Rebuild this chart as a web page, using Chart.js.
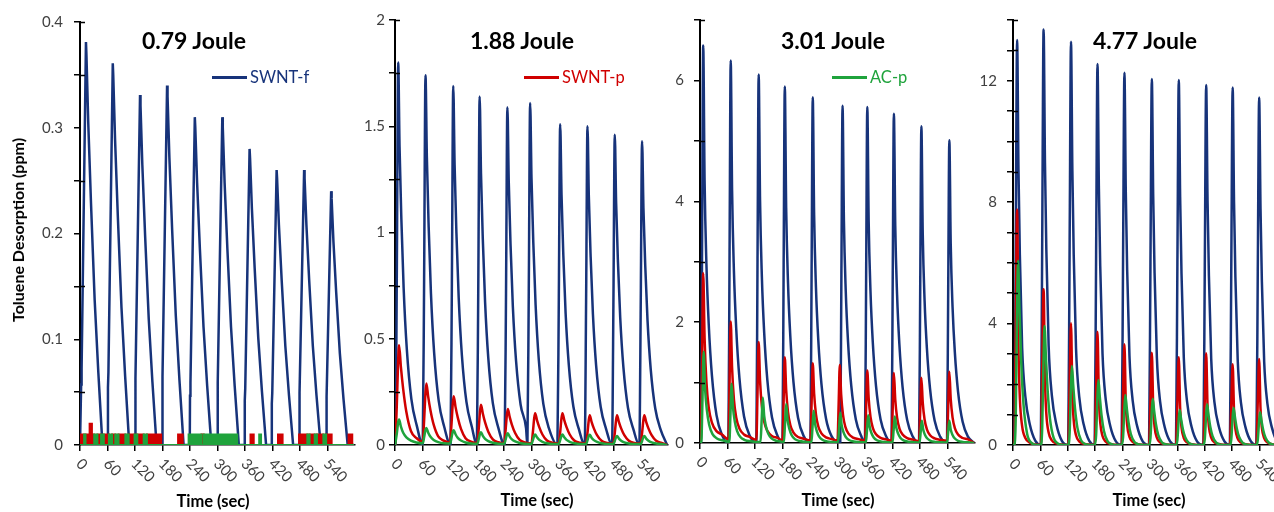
<!DOCTYPE html>
<html><head><meta charset="utf-8">
<script src="https://cdn.jsdelivr.net/npm/chart.js@4.4.1/dist/chart.umd.min.js"></script>
<style>
html,body{margin:0;padding:0;background:#fff;overflow:hidden;width:1274px;height:512px;}
#wrap{position:relative;width:1274px;height:512px;overflow:hidden;font-family:Lato,'Open Sans',sans-serif;}
canvas{position:absolute;top:0;}
.t{position:absolute;white-space:nowrap;line-height:1;}
.title{font-weight:bold;font-size:23px;color:#000;transform:translate(-50%,-50%);}
.xt{font-weight:bold;font-size:16.5px;color:#000;transform:translate(-50%,-50%);}
.yt{font-weight:bold;font-size:16px;color:#000;transform:translate(-50%,-50%) rotate(-90deg);}
.leg{font-size:16.5px;transform:translateY(-50%);}
.legline{position:absolute;height:3px;}
</style></head>
<body><div id="wrap"></div>
<script>
// ---------- labels ----------
const timeTicks = [0, 60, 120, 180, 240, 300, 360, 420, 480, 540];
const panelTitles = ['0.79 Joule', '1.88 Joule', '3.01 Joule', '4.77 Joule'];
const seriesNames = ['SWNT-f', 'SWNT-p', 'AC-p'];
const xTitle = 'Time (sec)';
const yTitle = 'Toluene Desorption (ppm)';
const yMaxes = [0.4, 2, 7, 14];
const yMinorSteps = [0.05, 0.25, 1, 1];
const yLabelSteps = [0.1, 0.5, 2, 4];

// ---------- Panel 1 : 0.79 Joule ----------
const p1FStart = [2, 60.5, 120, 179, 239.5, 299.5, 359, 418, 478, 537];
const p1FPeak  = [0.381, 0.361, 0.331, 0.340, 0.310, 0.310, 0.280, 0.260, 0.260, 0.240];
const p1FOff   = [0, 0.5, 1.5, 11, 12, 16, 22, 30, 38, 44, 47];
const p1FRel   = [0, 0.15, 0.19, 1, 0.97, 0.8, 0.6, 0.36, 0.18, 0.06, 0];
// [start, end, level] blocks of the noisy traces
const p1PBlocks = [[0,9,0.01],[12,21,0.01],[21,26,0.02],[26,31,0.01],[38,46,0.01],[52,63,0.01],[70,77,0.01],[84,99,0.01],[106,119,0.01],[125,139,0.01],[146,177,0.01],[214,224,0.01],[265,270,0.01],[372,379,0.01],[432,442,0.01],[478,496,0.01],[501,512,0.01],[517,531,0.01],[537,549,0.01],[586,594,0.01]];
const p1ABlocks = [[9,12,0.01],[31,38,0.01],[46,52,0.01],[63,70,0.01],[77,84,0.01],[99,106,0.01],[119,125,0.01],[139,146,0.01],[237,265,0.01],[270,343,0.01],[391,395,0.01],[496,501,0.01],[512,517,0.01],[531,537,0.01]];

// ---------- Panel 2 : 1.88 Joule ----------
const p2FStart = [1, 61, 122, 180, 241, 291, 357, 417, 477, 537];
const p2FPeak  = [1.80, 1.74, 1.69, 1.64, 1.59, 1.61, 1.51, 1.50, 1.46, 1.43];
const p2FOff   = [0, 3, 6, 9, 13, 18, 25, 35, 47];
const p2FRel   = [0, 0.45, 1, 0.78, 0.59, 0.41, 0.25, 0.12, 0.05];
const p2PStart = [1, 61, 121, 181, 240, 300, 360, 420, 480, 540];
const p2PPeak  = [0.47, 0.29, 0.23, 0.19, 0.17, 0.15, 0.15, 0.14, 0.14, 0.14];
const p2POff   = [0, 3, 6, 8, 12, 17, 24, 34, 46];
const p2PRel   = [0.05, 0.4, 0.85, 1, 0.78, 0.56, 0.33, 0.14, 0.07];
const p2AStart = [1, 61, 121, 181, 240, 300, 360, 420, 480, 540];
const p2APeak  = [0.12, 0.08, 0.07, 0.06, 0.055, 0.05, 0.05, 0.048, 0.042, 0.042];
const p2AOff   = [0, 3, 6, 8, 12, 17, 24, 34, 46];
const p2ARel   = [0.1, 0.45, 0.9, 1, 0.72, 0.48, 0.3, 0.17, 0.1];

// ---------- Panel 3 : 3.01 Joule ----------
const p3FStart = [2, 62, 123, 180, 241, 306, 360, 418, 478, 539];
const p3FPeak  = [6.58, 6.33, 6.10, 5.90, 5.72, 5.58, 5.56, 5.45, 5.24, 5.01];
const p3FOff   = [0, 2.5, 5, 8, 12, 17, 24, 34, 46];
const p3FRel   = [0, 0.5, 1, 0.66, 0.45, 0.3, 0.17, 0.07, 0.02];
const p3PStart = [2, 62, 123, 180, 241, 300, 360, 418, 478, 539];
const p3PPeak  = [2.81, 2.01, 1.67, 1.42, 1.32, 1.29, 1.20, 1.16, 1.08, 1.18];
const p3POff   = [0, 2.5, 5, 8, 12, 17, 24, 34, 46];
const p3PRel   = [0.03, 0.5, 1, 0.62, 0.36, 0.21, 0.12, 0.07, 0.05];
const p3AStart = [3, 64, 132, 183, 243, 301, 362, 420, 479, 539];
const p3APeak  = [1.51, 0.98, 0.755, 0.645, 0.535, 0.50, 0.46, 0.44, 0.37, 0.37];
const p3AOff   = [0, 2.5, 5, 8, 12, 17, 24, 34, 46];
const p3ARel   = [0.02, 0.5, 1, 0.6, 0.36, 0.2, 0.1, 0.05, 0.03];

// ---------- Panel 4 : 4.77 Joule ----------
const p4FStart = [3, 61, 121, 179, 238, 298, 357, 417, 475, 533];
const p4FPeak  = [13.34, 13.69, 13.28, 12.55, 12.26, 12.06, 12.02, 11.86, 11.78, 11.45];
const p4FOff   = [0, 3, 6, 9, 12, 17, 24, 34, 46];
const p4FRel   = [0, 0.5, 1, 0.68, 0.47, 0.24, 0.12, 0.05, 0.01];
const p4PStart = [3, 61, 121, 179, 238, 298, 357, 417, 475, 533];
const p4PPeak  = [7.76, 5.13, 4.01, 3.73, 3.32, 3.04, 2.89, 3.02, 2.66, 2.83];
const p4POff   = [0, 3, 6, 9, 12, 17, 24, 34];
const p4PRel   = [0, 0.5, 1, 0.42, 0.2, 0.08, 0.03, 0.01];
const p4AStart = [3, 61, 121, 179, 238, 298, 357, 417, 475, 533];
const p4APeak  = [6.07, 3.92, 2.60, 2.14, 1.65, 1.52, 1.15, 1.34, 1.23, 1.08];
const p4AOff   = [0, 3, 6, 8, 11, 15, 20, 28, 38, 48];
const p4ARel   = [0, 0.15, 0.75, 1, 0.75, 0.45, 0.22, 0.06, 0.01, 0];

// ---------- styling ----------
const NAVY = '#17337A', RED = '#D00000', GREEN = '#1FA33C';
const colors = [NAVY, RED, GREEN];
const FONT = 'Lato, "Open Sans", sans-serif';

function pulses(starts, peaks, offs, rel, endT) {
  const pts = [{x: 0, y: 0}];
  starts.forEach((s, i) => offs.forEach((o, j) => pts.push({x: s + o, y: peaks[i] * rel[j]})));
  pts.push({x: endT, y: 0});
  return pts;
}
function blocks(list, endT) {
  const pts = [{x: 0, y: 0}];
  list.forEach(([a, b, v]) => { pts.push({x: a, y: v}); pts.push({x: b, y: 0}); });
  pts.push({x: endT, y: 0});
  return pts;
}
function line(data, k, smooth) {
  return {data, borderColor: colors[k], backgroundColor: colors[k], borderWidth: 2.5, pointRadius: 0,
    fill: false, order: 3 - k, tension: 0, cubicInterpolationMode: smooth ? 'monotone' : 'default'};
}
function stepFill(data, k) {
  return {data, borderColor: colors[k], backgroundColor: colors[k], borderWidth: 2, pointRadius: 0,
    fill: 'origin', stepped: true, order: 3 - k};
}

const panels = [
  {L: 80, T: 22, B: 445, R: 355, yPad: 11, datasets: [
    line(pulses(p1FStart, p1FPeak, p1FOff, p1FRel, 598), 0, false),
    stepFill(blocks(p1PBlocks, 598), 1),
    stepFill(blocks(p1ABlocks, 598), 2)]},
  {L: 395, T: 20, B: 445, R: 668, yPad: 4, datasets: [
    line(pulses(p2FStart, p2FPeak, p2FOff, p2FRel, 598), 0, true),
    line(pulses(p2PStart, p2PPeak, p2POff, p2PRel, 598), 1, true),
    line(pulses(p2AStart, p2APeak, p2AOff, p2ARel, 598), 2, true)]},
  {L: 700, T: 20, B: 443, R: 975, yPad: 10, datasets: [
    line(pulses(p3FStart, p3FPeak, p3FOff, p3FRel, 598), 0, true),
    line(pulses(p3PStart, p3PPeak, p3POff, p3PRel, 598), 1, true),
    line(pulses(p3AStart, p3APeak, p3AOff, p3ARel, 598), 2, true)]},
  {L: 1013, T: 20, B: 445, R: 1287, yPad: 10, datasets: [
    line(pulses(p4FStart, p4FPeak, p4FOff, p4FRel, 598), 0, true),
    line(pulses(p4PStart, p4PPeak, p4POff, p4PRel, 598), 1, true),
    line(pulses(p4AStart, p4APeak, p4AOff, p4ARel, 598), 2, true)]}
];

const axisPlugin = {
  id: 'axisExtras',
  afterDraw(chart) {
    const ctx = chart.ctx, xs = chart.scales.x, ys = chart.scales.y;
    ctx.save();
    ctx.font = '15px ' + FONT; ctx.fillStyle = '#404040';
    ctx.textAlign = 'left'; ctx.textBaseline = 'top';
    timeTicks.forEach(v => {
      const px = xs.getPixelForValue(v);
      ctx.save(); ctx.translate(px + 4, xs.top + 11); ctx.rotate(Math.PI / 4);
      ctx.fillText(String(v), 0, 0); ctx.restore();
    });
    ctx.strokeStyle = '#000'; ctx.lineWidth = 1.5;
    ys.ticks.forEach(t => {
      if (t.value === 0) return;
      if (!t.label || Math.abs(t.value - ys.max) < 1e-9) {
        const py = Math.round(ys.getPixelForValue(t.value)) + 0.5;
        ctx.beginPath(); ctx.moveTo(ys.right, py); ctx.lineTo(ys.right + 5, py); ctx.stroke();
      }
    });
    ctx.restore();
  }
};

const wrap = document.getElementById('wrap');
panels.forEach((p, k) => {
  const cv = document.createElement('canvas');
  const W = (p.R - p.L) + 70 + 6;
  cv.width = W; cv.height = 512;
  cv.style.left = (p.L - 70) + 'px'; cv.style.width = W + 'px'; cv.style.height = '512px';
  wrap.appendChild(cv);
  new Chart(cv, {
    type: 'line',
    data: {datasets: p.datasets},
    options: {
      responsive: false, animation: false, devicePixelRatio: 1,
      layout: {padding: {left: 0, right: 6, top: p.T, bottom: 0}},
      plugins: {legend: {display: false}, tooltip: {enabled: false}},
      scales: {
        x: {type: 'linear', min: 0, max: 600,
          ticks: {display: false, stepSize: 60},
          afterBuildTicks: s => { s.ticks = timeTicks.map(v => ({value: v})); },
          afterFit: s => { s.height = 512 - p.B; },
          grid: {display: true, drawOnChartArea: false, drawTicks: true, tickLength: 6, color: '#000', lineWidth: 1.5},
          border: {display: true, color: '#000', width: 1.5}},
        y: {type: 'linear', min: 0, max: yMaxes[k],
          ticks: {stepSize: yMinorSteps[k], autoSkip: false, color: '#404040', padding: p.yPad,
            font: {family: FONT, size: 15},
            callback: v => { const q = v / yLabelSteps[k]; return Math.abs(q - Math.round(q)) < 1e-6 ? String(+v.toFixed(2)) : ''; }},
          afterFit: s => { s.width = 70; },
          grid: {display: true, drawOnChartArea: false, drawTicks: true, tickLength: 6, color: '#000', lineWidth: 1.5},
          border: {display: true, color: '#000', width: 2}}
      }
    },
    plugins: [axisPlugin]
  });
});

// ---------- texts ----------
function addText(cls, txt, x, y, extra) {
  const d = document.createElement('div');
  d.className = 't ' + cls; d.textContent = txt;
  d.style.left = x + 'px'; d.style.top = y + 'px';
  if (extra) Object.assign(d.style, extra);
  wrap.appendChild(d); return d;
}
const titlePos = [[194, 40], [522, 40], [833, 40], [1145, 40]];
const xTitlePos = [[213, 501], [537, 500], [838, 500], [1149, 500]];
panelTitles.forEach((t, i) => addText('title', t, titlePos[i][0], titlePos[i][1]));
xTitlePos.forEach(([x, y]) => addText('xt', xTitle, x, y));
addText('yt', yTitle, 18, 230);
const legPos = [[212, 77], [524, 77], [832, 77]];
seriesNames.forEach((n, i) => {
  const [x, y] = legPos[i];
  const ln = document.createElement('div');
  ln.className = 'legline';
  Object.assign(ln.style, {left: x + 'px', top: (y - 1.5) + 'px', width: '35px', background: colors[i]});
  wrap.appendChild(ln);
  addText('leg', n, x + 38, y, {color: colors[i]});
});
</script>
</body></html>
